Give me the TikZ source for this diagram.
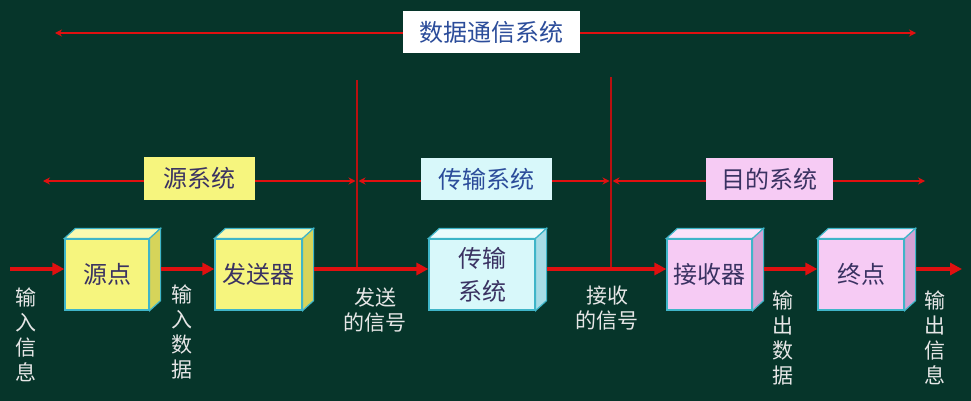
\documentclass[tikz,border=0pt]{standalone}
\usepackage{fontspec}
\setmainfont{Noto Sans CJK SC}
\usetikzlibrary{arrows.meta}
\definecolor{bg}{HTML}{06352A}
\definecolor{lred}{HTML}{E01010}
\definecolor{vred}{HTML}{B81010}
\definecolor{edge}{HTML}{3FB5C8}
\definecolor{yfront}{HTML}{F6F57E}
\definecolor{ytop}{HTML}{FAFAB0}
\definecolor{yside}{HTML}{D6D45A}
\definecolor{cfront}{HTML}{D8F8FA}
\definecolor{ctop}{HTML}{ECFCFD}
\definecolor{cside}{HTML}{A8DCE6}
\definecolor{pfront}{HTML}{F6CBF4}
\definecolor{ptop}{HTML}{FBE3FA}
\definecolor{pside}{HTML}{D4A2D4}
\definecolor{boxtext}{HTML}{3A3262}
\definecolor{bluetext}{HTML}{2B4C9A}
\definecolor{labtext}{HTML}{E6E6E6}
\tikzset{
  front/.style={draw=edge, line width=1.2pt, minimum height=71pt, inner sep=0pt,
    text=boxtext, font=\fontsize{24}{28}\selectfont, align=center},
  flow/.style={draw=lred, line width=4pt, -{Triangle[length=12pt,width=12pt]}},
  thin/.style={draw=lred, line width=2.2pt, {Stealth[length=7pt,width=7pt]}-{Stealth[length=7pt,width=7pt]}},
  vline/.style={draw=vred, line width=1.6pt},
  tag/.style={inner sep=0pt, font=\fontsize{24}{28}\selectfont},
  lab/.style={text=labtext, font=\fontsize{21}{25}\selectfont, align=center, inner sep=0pt},
}
\newcommand\cubefaces[4]{%
  \filldraw[fill=#2, draw=edge, line width=1.2pt] (#1.north west) -- ++(11,-10) -- ([xshift=11pt,yshift=10pt]#1.north east) -- (#1.north east) -- cycle;
  \filldraw[fill=#3, draw=edge, line width=1.2pt] (#1.north east) -- ([xshift=11pt,yshift=10pt]#1.north east) -- ([xshift=11pt,yshift=10pt]#1.south east) -- (#1.south east) -- cycle;
}
\begin{document}
\begin{tikzpicture}[x=1pt,y=-1pt]
\fill[bg] (0,0) rectangle (971,401);
\useasboundingbox (0,0) rectangle (971,401);

% top arrow
\coordinate (tl) at (55,33);
\coordinate (tr) at (916,33);
\draw[thin] (tl) -- (tr);
\node[tag, fill=white, text=bluetext, minimum width=177pt, minimum height=42pt] (dcs) at (491.5,32) {数据通信系统};

% vertical dividers
\coordinate (v1) at (357,80);
\coordinate (v2) at (611,77);
\coordinate (in) at (10,269);
\coordinate (out) at (962,269);
\draw[vline] (v1) -- (v1 |- in);
\draw[vline] (v2) -- (v2 |- in);

% sub-system arrows
\coordinate (s1) at (43,181);
\coordinate (s2) at (925,181);
\draw[thin] (s1) -- ([xshift=-1.5pt]v1 |- s1);
\draw[thin] ([xshift=1.5pt]v1 |- s1) -- ([xshift=-1.5pt]v2 |- s1);
\draw[thin] ([xshift=1.5pt]v2 |- s1) -- (s2);
\node[tag, fill=yfront, text=boxtext, minimum width=111pt, minimum height=43pt] (srcsys) at (199.5,178.5) {源系统};
\node[tag, fill=cfront, text=bluetext, minimum width=131pt, minimum height=42pt] (trsys) at (486.5,179) {传输系统};
\node[tag, fill=pfront, text=boxtext, minimum width=127pt, minimum height=42pt] (dstsys) at (769.5,179) {目的系统};

% cubes
\node[front, fill=yfront, minimum width=84pt] (src) at (107,274.5) {源点};
\cubefaces{src}{ytop}{yside}{}
\node[front, fill=yfront, minimum width=87pt] (tx) at (258.5,274.5) {发送器};
\cubefaces{tx}{ytop}{yside}{}
\node[front, fill=cfront, minimum width=106pt] (trans) at (482,274.5) {传输\\[5pt]系统};
\cubefaces{trans}{ctop}{cside}{}
\node[front, fill=pfront, minimum width=85pt] (rx) at (709.5,274.5) {接收器};
\cubefaces{rx}{ptop}{pside}{}
\node[front, fill=pfront, minimum width=86pt] (dst) at (861,274.5) {终点};
\cubefaces{dst}{ptop}{pside}{}

% flow arrows
\draw[flow] (in) -- ([yshift=5.5pt]src.west);
\draw[flow] ([xshift=11pt,yshift=5.5pt]src.east) -- ([yshift=5.5pt]tx.west);
\draw[flow] ([xshift=11pt,yshift=5.5pt]tx.east) -- ([yshift=5.5pt]trans.west);
\draw[flow] ([xshift=11pt,yshift=5.5pt]trans.east) -- ([yshift=5.5pt]rx.west);
\draw[flow] ([xshift=11pt,yshift=5.5pt]rx.east) -- ([yshift=5.5pt]dst.west);
\draw[flow] ([xshift=11pt,yshift=5.5pt]dst.east) -- (out);

% labels
\node[lab] (l1) at (26,335) {输\\入\\信\\息};
\node[lab] (l2) at (182,331.5) {输\\入\\数\\据};
\node[lab] (l3) at (375,310) {发送\\的信号};
\node[lab] (l4) at (607,308) {接收\\的信号};
\node[lab] (l5) at (783,338) {输\\出\\数\\据};
\node[lab] (l6) at (935,337.5) {输\\出\\信\\息};
\end{tikzpicture}
\end{document}
